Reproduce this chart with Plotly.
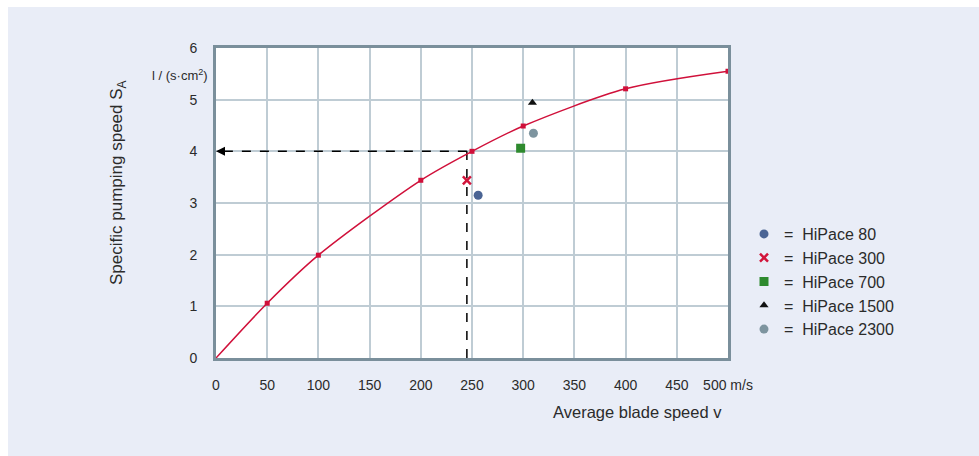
import plotly.graph_objects as go

# ---- data ----
curve_x = [0, 50, 100, 200, 250, 300, 400, 500]
curve_y = [0, 1.06, 1.99, 3.44, 4.0, 4.49, 5.21, 5.55]

pumps = ["HiPace 80", "HiPace 300", "HiPace 700", "HiPace 1500", "HiPace 2300"]
pump_x = [256, 245, 297.5, 309, 310]
pump_y = [3.15, 3.44, 4.06, 4.94, 4.35]
pump_symbols = ["circle", "x-thin-open", "square", "triangle-up", "circle"]
pump_colors = ["#4a6494", "#d2143a", "#2e8a2e", "#111111", "#7d949f"]
pump_sizes = [9, 8, 9, 8, 9]

read_x = 245
read_y = 4.0

x_ticks = [0, 50, 100, 150, 200, 250, 300, 350, 400, 450, 500]
x_ticktext = ["0", "50", "100", "150", "200", "250", "300", "350", "400", "450", "500 m/s"]
y_ticks = [0, 1, 2, 3, 4, 5, 6]

FONT = "Liberation Sans, Arial, sans-serif"
TXT = "#2b2b2b"

fig = go.Figure()

# dashed reading lines
fig.add_trace(go.Scatter(x=[read_x, read_x], y=[0, read_y], mode="lines",
                         line=dict(color="black", width=1.5, dash="dash"),
                         showlegend=False, hoverinfo="skip"))
fig.add_trace(go.Scatter(x=[read_x, 6], y=[read_y, read_y], mode="lines",
                         line=dict(color="black", width=1.5, dash="dash"),
                         showlegend=False, hoverinfo="skip"))

# curve
fig.add_trace(go.Scatter(x=curve_x, y=curve_y, mode="lines",
                         line=dict(color="#d0103a", width=1.5, shape="spline", smoothing=0.8),
                         showlegend=False, hoverinfo="skip"))
fig.add_trace(go.Scatter(x=curve_x[1:], y=curve_y[1:], mode="markers",
                         marker=dict(symbol="square", size=5, color="#d0103a"),
                         showlegend=False, cliponaxis=False))

for name, x, y, s, c, sz in zip(pumps, pump_x, pump_y, pump_symbols, pump_colors, pump_sizes):
    mk = dict(symbol=s, size=sz, color=c)
    if s == "x-thin-open":
        mk["line"] = dict(color=c, width=2.5)
    fig.add_trace(go.Scatter(x=[x], y=[y], mode="markers", name="=  " + name,
                             marker=mk))

# arrow head
fig.add_annotation(x=0, y=read_y, ax=10, ay=read_y, xref="x", yref="y",
                   axref="x", ayref="y", showarrow=True, arrowhead=2,
                   arrowsize=1.2, arrowwidth=1.5, arrowcolor="black", text="")

# axis titles / unit
fig.add_annotation(x=(118 - 216) / 512, y=(358 - 183) / 310, xref="paper", yref="paper",
                   xanchor="center", yanchor="middle",
                   text="Specific pumping speed S<sub>A</sub>", textangle=-90,
                   showarrow=False, font=dict(size=17, color=TXT, family=FONT))
fig.add_annotation(x=(724 - 216) / 512, y=(358 - 412) / 310, xref="paper", yref="paper",
                   xanchor="right", yanchor="middle",
                   text="Average blade speed v", showarrow=False,
                   font=dict(size=16.5, color=TXT, family=FONT))
fig.add_annotation(x=(210 - 216) / 512, y=(358 - 75) / 310, xref="paper", yref="paper",
                   xanchor="right", yanchor="middle",
                   text="l / (s\u00b7cm<sup>2</sup>)", showarrow=False,
                   font=dict(size=13, color=TXT, family=FONT))

# white border strips at top and left of the page
fig.add_shape(type="rect", xref="paper", yref="paper", x0=-0.43, x1=1.6,
              y0=(358 - 7) / 310, y1=1.2, fillcolor="white", line_width=0, layer="below")
fig.add_shape(type="rect", xref="paper", yref="paper", x0=-0.45, x1=(8 - 216) / 512,
              y0=-0.5, y1=1.2, fillcolor="white", line_width=0, layer="below")

axis_common = dict(showgrid=True, gridcolor="#bfccd4", gridwidth=1.6,
                   showline=True, linecolor="#7a8f9b", linewidth=3, mirror=True,
                   zeroline=False, ticks="",
                   tickfont=dict(size=14, color=TXT, family=FONT))

fig.update_xaxes(range=[0, 500], tickvals=x_ticks, ticktext=x_ticktext,
                 ticklabelstandoff=12, **axis_common)
fig.update_yaxes(range=[0, 6], tickvals=y_ticks, ticklabelstandoff=13, **axis_common)

fig.update_layout(
    width=979, height=456,
    margin=dict(l=216, r=251, t=48, b=98),
    paper_bgcolor="#e9edf7", plot_bgcolor="white",
    font=dict(family=FONT, color=TXT),
    legend=dict(x=(744 - 216) / 512, y=(358 - 217) / 310, xanchor="left", yanchor="top",
                font=dict(size=16, color=TXT, family=FONT),
                bgcolor="rgba(0,0,0,0)", itemwidth=30, tracegroupgap=0),
    showlegend=True,
)

fig.write_html("out.html")
